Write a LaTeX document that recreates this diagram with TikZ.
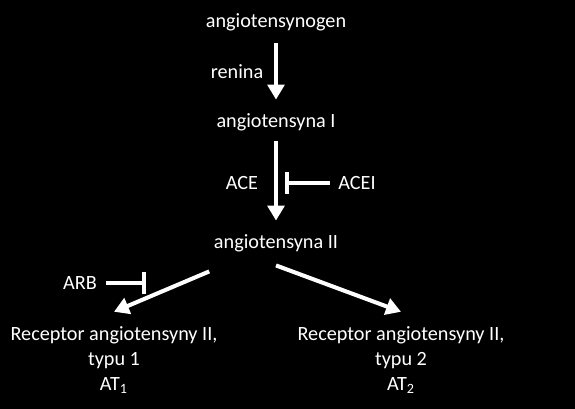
\documentclass[tikz,border=0pt]{standalone}
\usepackage{fontspec}
\setmainfont{Carlito}
\usetikzlibrary{arrows.meta}
\begin{document}
\begin{tikzpicture}[every node/.style={text=white, font=\fontsize{11.5}{14.2}\selectfont, align=center, inner sep=2.5pt},
  arr/.style={draw=white, line width=2.3pt, -{Triangle[width=9.5pt,length=8.5pt]}},
  inh/.style={draw=white, line width=2.3pt, -{Bar[width=12pt]}}]
\fill[black] (0,0) rectangle (11.5,-8.18);
\node (n1) at (5.52,-0.44) {angiotensynogen};
\node (ren) at (4.74,-1.44) {renina};
\node (n2) at (5.52,-2.44) {angiotensyna I};
\node (ace) at (4.84,-3.66) {ACE};
\node (acei) at (7.14,-3.66) {ACEI};
\node (n3) at (5.52,-4.86) {angiotensyna II};
\node (arb) at (1.60,-5.66) {ARB};
\node (r1) at (2.28,-7.20) {Receptor angiotensyny II,\\typu 1\\AT\textsubscript{1}};
\node (r2) at (8.02,-7.20) {Receptor angiotensyny II,\\typu 2\\AT\textsubscript{2}};
\coordinate (blk1) at (5.70,-3.66);
\coordinate (blk2) at (2.92,-5.66);
\draw[arr,shorten <=0.16cm,shorten >=0.18cm] (n1) -- (n2);
\draw[arr,shorten <=0.12cm,shorten >=0.18cm] (n2) -- (n3);
\draw[inh,shorten <=0.08cm] (acei) -- (blk1);
\draw[inh,shorten <=0.08cm] (arb) -- (blk2);
\draw[arr] ([yshift=-0.30cm]n3.south west) -- ([yshift=0.2cm]r1.north);
\draw[arr] ([yshift=-0.18cm]n3.south) -- ([yshift=0.2cm]r2.north);
\end{tikzpicture}
\end{document}
